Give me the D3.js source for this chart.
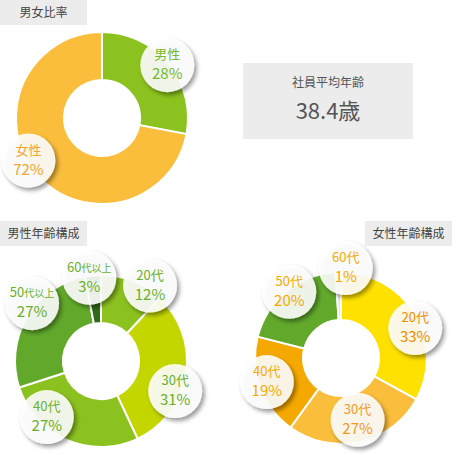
<!DOCTYPE html>
<html>
<head>
<meta charset="utf-8">
<script src="https://cdn.jsdelivr.net/npm/d3@7"></script>
<style>
	body { margin: 0; background: #fff; }
	svg text { font-family: "Noto Sans CJK JP", "Noto Sans", sans-serif; }
</style>
</head>
<body>
<script>
// chart values
var genderLabels = ["男性", "女性"];
var genderValues = [28, 72];

var maleAgeLabels = ["20代", "30代", "40代", "50代以上", "60代以上"];
var maleAgeValues = [12, 31, 27, 27, 3];

var femaleAgeLabels = ["20代", "30代", "40代", "50代", "60代"];
var femaleAgeValues = [33, 27, 19, 20, 1];

var averageAge = 38.4;

// where the label bubbles sit: [angle in degrees from top, distance from centre]
var genderSpots = [[51, 84], [240, 85]];
var maleAgeSpots = [[33, 90], [112, 80], [224, 78], [310, 90], [352, 84]];
var femaleAgeSpots = [[68, 80], [165, 64], [252, 78], [322, 84], [3, 90]];

var width = 458;
var height = 455;

var svg = d3.select("body")
				.append("svg")
				.attr("width", width)
				.attr("height", height);

// soft shadow for the label bubbles
var filter = svg.append("defs")
				.append("filter")
				.attr("id", "shadow")
				.attr("x", "-30%")
				.attr("y", "-30%")
				.attr("width", "170%")
				.attr("height", "170%");
filter.append("feDropShadow")
				.attr("dx", 2.5)
				.attr("dy", 3)
				.attr("stdDeviation", 2)
				.attr("flood-color", "#000")
				.attr("flood-opacity", 0.45);

// grey title tabs
function titleBox(x, y, label) {
	svg.append("rect")
				.attr("x", x)
				.attr("y", y)
				.attr("width", 87)
				.attr("height", 25)
				.attr("fill", "#ececec");
	svg.append("text")
				.attr("x", x + 43.5)
				.attr("y", y + 17)
				.attr("text-anchor", "middle")
				.attr("font-size", 12)
				.attr("fill", "#444")
				.text(label);
}

titleBox(0, 0, "男女比率");
titleBox(0, 221, "男性年齢構成");
titleBox(365, 221, "女性年齢構成");

// average age box
svg.append("rect")
			.attr("x", 243)
			.attr("y", 63)
			.attr("width", 170)
			.attr("height", 76)
			.attr("fill", "#ececec");
svg.append("text")
			.attr("x", 328)
			.attr("y", 87)
			.attr("text-anchor", "middle")
			.attr("font-size", 12)
			.attr("fill", "#555")
			.text("社員平均年齢");
svg.append("text")
			.attr("x", 328)
			.attr("y", 119)
			.attr("text-anchor", "middle")
			.attr("font-size", 22)
			.attr("fill", "#555")
			.text(averageAge.toFixed(1) + "歳");

// draws one donut with its bubbles
function donut(cx, cy, labels, values, colors, textColors, spots) {
	var pie = d3.pie().sort(null).value(function(d) { return d; });
	var arc = d3.arc().innerRadius(38).outerRadius(86);
	var total = d3.sum(values);
	var angle = d3.scaleLinear().domain([0, 360]).range([0, 2 * Math.PI]);

	var g = svg.append("g")
				.attr("transform", "translate(" + cx + "," + cy + ")");

	g.selectAll("path")
				.data(pie(values))
				.enter()
				.append("path")
				.attr("d", arc)
				.attr("fill", function(d, i) { return colors[i]; })
				.attr("stroke", "#fff")
				.attr("stroke-width", 2);

	var bubble = g.selectAll("g.bubble")
				.data(labels)
				.enter()
				.append("g")
				.attr("class", "bubble")
				.attr("transform", function(d, i) {
					var a = angle(spots[i][0]);
					var r = spots[i][1];
					return "translate(" + (r * Math.sin(a)) + "," + (-r * Math.cos(a)) + ")";
				});

	bubble.append("circle")
				.attr("r", 27)
				.attr("fill", "#fff")
				.attr("fill-opacity", 0.88)
				.attr("filter", "url(#shadow)");

	// first line: the category, small kanji after the number
	var line1 = bubble.append("text")
				.attr("y", -6)
				.attr("text-anchor", "middle")
				.attr("fill", function(d, i) { return textColors[i]; });
	line1.append("tspan")
				.attr("font-size", 13)
				.text(function(d) { return d.match(/^[0-9]*/)[0]; });
	line1.append("tspan")
				.attr("font-size", function(d) { return d.length > 3 ? 10 : 13; })
				.text(function(d) { return d.replace(/^[0-9]*/, ""); });

	// second line: the share
	bubble.append("text")
				.attr("y", 14)
				.attr("text-anchor", "middle")
				.attr("font-size", 15)
				.attr("fill", function(d, i) { return textColors[i]; })
				.text(function(d, i) { return Math.round(values[i] / total * 100) + "%"; });
}

donut(102, 118, genderLabels, genderValues,
	["#8cc21f", "#fbbe3c"],
	["#76b82a", "#f5a530"],
	genderSpots);

donut(101, 361, maleAgeLabels, maleAgeValues,
	["#8cc21f", "#c4d600", "#8cc21f", "#62a92b", "#2f6a1c"],
	["#6aaf2c", "#6aaf2c", "#6aaf2c", "#6aaf2c", "#6aaf2c"],
	maleAgeSpots);

donut(341, 358, femaleAgeLabels, femaleAgeValues,
	["#ffe100", "#fbbe3c", "#f5a800", "#62a92b", "#e2e2e2"],
	["#ef8c00", "#f39a1e", "#f5ab00", "#f5ab00", "#f5ab00"],
	femaleAgeSpots);
</script>
</body>
</html>
